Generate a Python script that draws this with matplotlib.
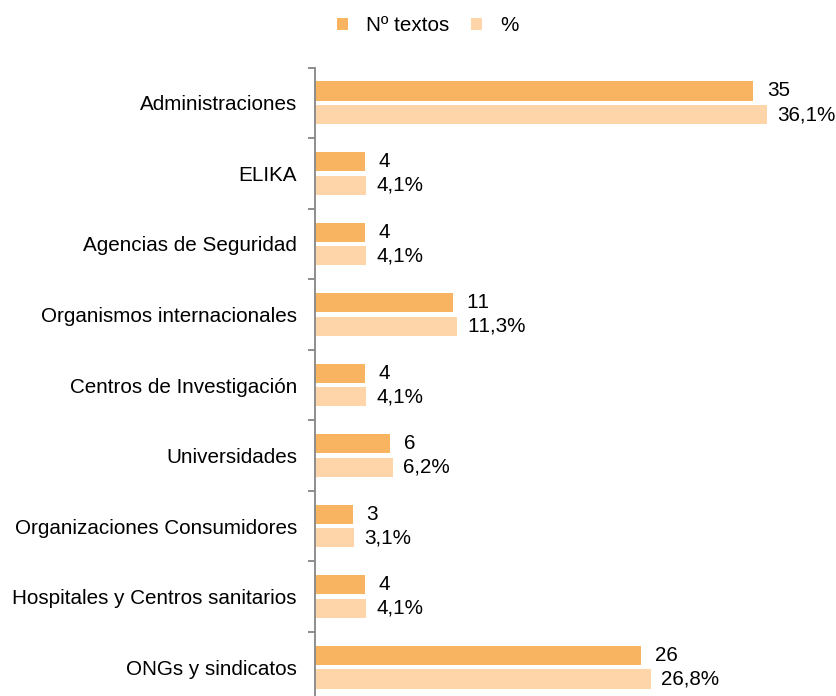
import matplotlib.pyplot as plt
import numpy as np

# datos
categorias = ['Administraciones', 'ELIKA', 'Agencias de Seguridad',
              'Organismos internacionales', 'Centros de Investigación',
              'Universidades', 'Organizaciones Consumidores',
              'Hospitales y Centros sanitarios', 'ONGs y sindicatos']
n_textos = [35, 4, 4, 11, 4, 6, 3, 4, 26]
porcentaje = [36.1, 4.1, 4.1, 11.3, 4.1, 6.2, 3.1, 4.1, 26.8]

COLOR_N = '#F9B461'
COLOR_P = '#FDD5A8'
GRIS = '#868686'
FS = 14.9

plt.rcParams['font.family'] = ['Liberation Sans', 'DejaVu Sans']
plt.rcParams['text.kerning_factor'] = 6  # sin kerning entre cifras

fig = plt.figure(figsize=(8.37, 6.96), dpi=100)
ax = fig.add_axes([315 / 837, -6.5 / 696, 501 / 837, 635 / 696])

y = np.arange(len(categorias))
alto = 0.27
off = 0.167

b1 = ax.barh(y - off, n_textos, height=alto, color=COLOR_N, label='Nº textos')
b2 = ax.barh(y + off, porcentaje, height=alto, color=COLOR_P, label='%')

for rect, v in zip(b1, n_textos):
    ax.annotate(str(v), (rect.get_width(), rect.get_y() + rect.get_height() / 2),
                xytext=(10, 0), textcoords='offset points',
                va='center', ha='left', fontsize=FS)
for rect, v in zip(b2, porcentaje):
    ax.annotate(f'{v:.1f}'.replace('.', ',') + '%',
                (rect.get_width(), rect.get_y() + rect.get_height() / 2),
                xytext=(7.5, 0), textcoords='offset points',
                va='center', ha='left', fontsize=FS)

ax.set_xlim(0, 40)
ax.set_ylim(len(categorias) - 0.5, -0.5)
ax.set_yticks(y)
ax.set_yticklabels(categorias, fontsize=FS)
ax.set_yticks(np.arange(len(categorias) + 1) - 0.5, minor=True)
ax.tick_params(axis='y', which='major', length=0, pad=13)
ax.tick_params(axis='y', which='minor', length=5, width=1.3, color=GRIS)
ax.set_xticks([])

for s in ['top', 'right', 'bottom']:
    ax.spines[s].set_visible(False)
ax.spines['left'].set_color(GRIS)
ax.spines['left'].set_linewidth(1.3)

fig.legend(handles=[b1, b2], loc='center', bbox_to_anchor=(0.511, 0.963),
           ncol=2, frameon=False, fontsize=FS, handlelength=0.55,
           handleheight=0.55, columnspacing=1.05, handletextpad=0.85)

plt.savefig('out.png', dpi=100)
